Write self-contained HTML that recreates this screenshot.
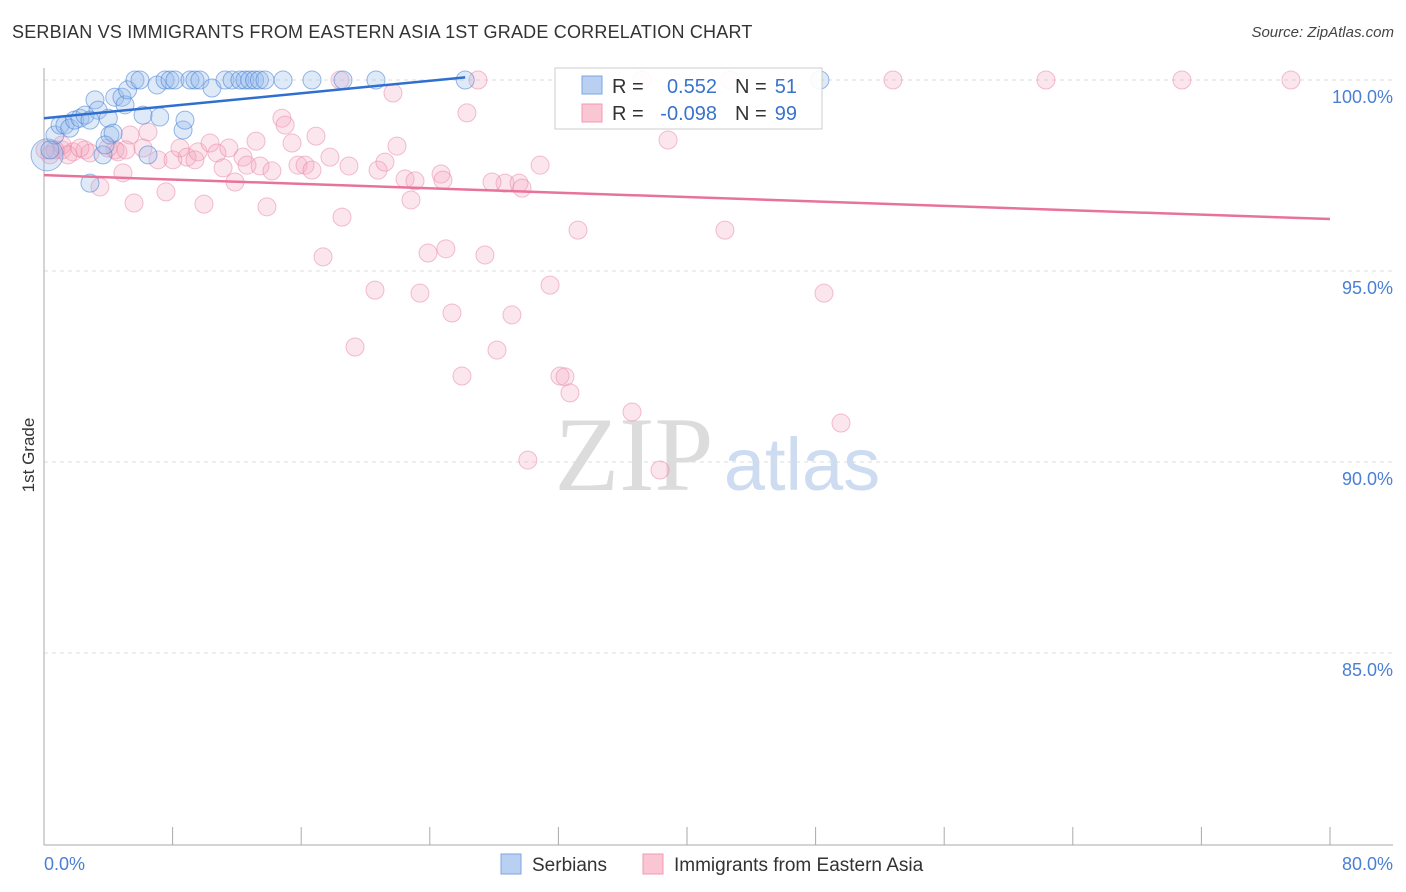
<!DOCTYPE html>
<html><head><meta charset="utf-8"><style>
body{margin:0;background:#fff;font-family:"Liberation Sans",sans-serif;}
#wrap{position:relative;width:1406px;height:892px;overflow:hidden;}
.t{position:absolute;white-space:nowrap;}
</style></head><body>
<div id="wrap">
<div class="t" style="left:12px;top:22px;font-size:18px;letter-spacing:0.2px;color:#333;">SERBIAN VS IMMIGRANTS FROM EASTERN ASIA 1ST GRADE CORRELATION CHART</div>
<div class="t" style="right:12px;top:24px;font-size:15px;color:#444;font-style:italic;">Source: ZipAtlas.com</div>
<svg id="svg" width="1406" height="892" style="position:absolute;left:0;top:0"></svg>
</div>
<script>
const xTicks=[0,8,16,24,32,40,48,56,64,72,80];
const yGrid=[100,95,90,85];
const yLabels=["100.0%","95.0%","90.0%","85.0%"];
const blueX=[0.19,0.68,1.0,1.3,1.6,1.9,2.24,2.55,2.86,3.17,3.36,3.67,4.0,4.1,4.3,4.4,4.85,5.04,5.2,5.66,5.97,6.16,7.03,7.2,7.53,7.84,8.15,8.65,8.77,9.08,9.39,9.7,10.45,11.26,11.7,12.19,12.5,12.8,13.1,13.4,13.75,14.87,16.67,18.6,20.65,26.2,48.27,6.47,0.37,3.8,2.86];
const blueY=[98.04,98.56,98.82,98.82,98.74,98.95,99.0,99.08,97.3,99.48,99.21,98.04,99.0,98.56,98.61,99.55,99.55,99.35,99.74,100,100,99.08,99.87,99.03,100,100,100,98.69,98.95,100,100,100,99.79,100,100,100,100,100,100,100,100,100,100,100,100,100,100,98.04,98.17,98.3,98.95];
const blueR=[16,9,9,9,9,9,9,9,9,9,9,9,9,9,9,9,9,9,9,9,9,9,9,9,9,9,9,9,9,9,9,9,9,9,9,9,9,9,9,9,9,9,9,9,9,9,9,9,9,9,9];
const pinkX=[0.37,1.12,1.8,2.55,2.86,3.48,4.42,4.91,5.35,5.6,6.16,6.47,7.09,7.59,8.02,8.46,8.9,9.39,9.58,9.95,10.33,10.76,11.14,11.5,11.88,12.38,12.63,13.19,13.44,13.87,14.18,14.8,15.0,15.43,15.8,16.24,16.67,16.92,17.36,17.79,18.54,18.97,18.41,20.78,21.21,21.71,21.96,22.46,22.83,23.08,23.89,24.7,25.0,26.31,27.0,19.35,20.59,23.39,25.38,26.0,27.43,28.18,28.68,29.11,29.55,29.74,30.86,31.48,32.1,32.41,32.72,33.22,36.58,37.2,38.32,38.82,42.36,42.68,48.52,49.58,52.81,62.33,70.79,77.57,30.1,24.82,1.12,1.49,2.24,3.98,4.6,5.1,0.06,0.68,27.87];
const pinkY=[98.04,98.17,98.12,98.17,98.09,97.2,98.17,97.57,98.56,96.78,98.22,98.64,97.91,97.07,97.91,98.22,97.98,97.91,98.12,96.75,98.35,98.09,97.7,98.22,97.33,97.98,97.77,98.4,97.75,96.68,97.62,99.0,98.82,98.35,97.77,97.77,97.64,98.53,95.37,97.98,96.41,97.75,100,97.64,97.85,99.66,98.27,97.41,96.86,97.36,95.47,97.54,95.58,99.14,100,93.01,94.5,94.42,93.9,92.25,95.42,92.93,97.3,93.85,97.3,97.17,97.77,94.63,92.25,92.23,91.81,96.07,91.31,100,89.79,98.43,96.07,100,94.42,91.02,100,100,100,100,90.05,97.38,98.3,98.04,98.22,98.22,98.12,98.17,98.17,98.17,97.33];
const blueTrend=[[0,99.0],[26.2,100.07]];
const pinkTrend=[[0,97.51],[80,96.36]];

const X0=44,X1=1330,Y100=80,PX_PER=38.2;
const sx=v=>X0+(v/80)*(X1-X0);
const sy=v=>Y100+(100-v)*PX_PER;
const svg=document.getElementById('svg');
const NS='http://www.w3.org/2000/svg';
function mk(tag,attrs,parent){const e=document.createElementNS(NS,tag);for(const k in attrs)e.setAttribute(k,attrs[k]);(parent||svg).appendChild(e);return e;}

const wm=mk('text',{x:634,y:490,'font-size':106,'font-family':'Liberation Serif, serif',fill:'#dcdcdc','text-anchor':'middle'});


wm.textContent='ZIP';
const wm2=mk('text',{x:802,y:490,'font-size':74,'font-family':'Liberation Sans, sans-serif',fill:'#cddcf1','text-anchor':'middle'});


wm2.textContent='atlas';

yGrid.forEach((v,i)=>{
  const l=mk('line',{x1:X0,x2:1393,y1:sy(v),y2:sy(v),stroke:'#ddd','stroke-dasharray':'4,4'});
  
  
  const t=mk('text',{x:1393,y:sy(v)+23,'font-size':18,fill:'#4a7fd4','text-anchor':'end','font-family':'Liberation Sans, sans-serif'});
  
  
  t.textContent=yLabels[i];
});
const ax=mk('line',{x1:X0,x2:X0,y1:68,y2:845,stroke:'#aaa'});


const bx=mk('line',{x1:X0,x2:1393,y1:845,y2:845,stroke:'#aaa'});


xTicks.forEach(v=>{
  const l=mk('line',{x1:sx(v),x2:sx(v),y1:827,y2:845,stroke:'#aaa'});
  
  
});
const xl0=mk('text',{x:44,y:870,'font-size':18,fill:'#4a7fd4','font-family':'Liberation Sans, sans-serif'});


xl0.textContent='0.0%';
const xl1=mk('text',{x:1393,y:870,'font-size':18,fill:'#4a7fd4','text-anchor':'end','font-family':'Liberation Sans, sans-serif'});


xl1.textContent='80.0%';
const yt=mk('text',{x:34,y:455,'font-size':17,fill:'#333','text-anchor':'middle',transform:'rotate(-90 34 455)','font-family':'Liberation Sans, sans-serif'});


yt.textContent='1st Grade';

pinkX.forEach((v,i)=>{
  const c=mk('circle',{cx:sx(v),cy:sy(pinkY[i]),r:9,fill:'rgba(244,165,190,0.28)',stroke:'rgba(232,130,162,0.5)','stroke-width':1});
  
  
});
blueX.forEach((v,i)=>{
  const c=mk('circle',{cx:sx(v),cy:sy(blueY[i]),r:blueR[i],fill:'rgba(150,186,236,0.3)',stroke:'rgba(70,128,212,0.55)','stroke-width':1});
  
  
});
const bt=mk('line',{x1:sx(blueTrend[0][0]),y1:sy(blueTrend[0][1]),x2:sx(blueTrend[1][0]),y2:sy(blueTrend[1][1]),stroke:'#2f6fd0','stroke-width':2.5});


const pt=mk('line',{x1:sx(pinkTrend[0][0]),y1:sy(pinkTrend[0][1]),x2:sx(pinkTrend[1][0]),y2:sy(pinkTrend[1][1]),stroke:'#e8739a','stroke-width':2.5});



const g=mk('g',{});


mk('rect',{x:555,y:68,width:267,height:61,fill:'rgba(255,255,255,0.9)',stroke:'#ccc'},g);
mk('rect',{x:582,y:76,width:20,height:18,fill:'#b9d0f2',stroke:'#7fa6e0'},g);
mk('rect',{x:582,y:104,width:20,height:18,fill:'#fbc6d4',stroke:'#f09ab2'},g);
function txt(x,y,s,fill,anchor){const t=mk('text',{x:x,y:y,'font-size':20,fill:fill,'text-anchor':anchor||'start','font-family':'Liberation Sans, sans-serif'},g);t.textContent=s;return t;}
txt(612,93,'R =','#333');txt(717,93,'0.552','#3a73cc','end');txt(735,93,'N =','#333');txt(797,93,'51','#3a73cc','end');
txt(612,120,'R =','#333');txt(717,120,'-0.098','#3a73cc','end');txt(735,120,'N =','#333');txt(797,120,'99','#3a73cc','end');

const b1=mk('rect',{x:501,y:854,width:20,height:20,fill:'#b9d0f2',stroke:'#7fa6e0'});


const bl1=mk('text',{x:532,y:871,'font-size':19,fill:'#333','font-family':'Liberation Sans, sans-serif'});


bl1.textContent='Serbians';
const b2=mk('rect',{x:643,y:854,width:20,height:20,fill:'#fbc6d4',stroke:'#f09ab2'});


const bl2=mk('text',{x:674,y:871,'font-size':19,fill:'#333','font-family':'Liberation Sans, sans-serif'});


bl2.textContent='Immigrants from Eastern Asia';
</script>
</body></html>
